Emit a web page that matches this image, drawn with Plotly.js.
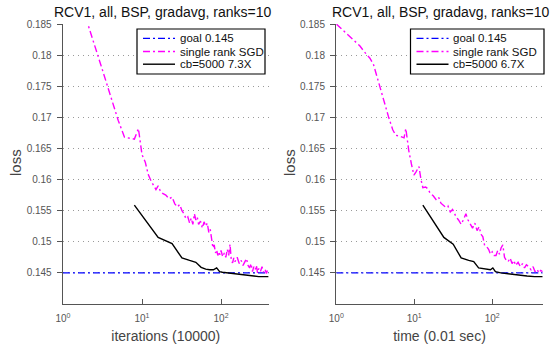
<!DOCTYPE html>
<html>
<head>
<meta charset="utf-8">
<script src="https://cdn.plot.ly/plotly-3.0.1.min.js"></script>
<style>html,body{margin:0;padding:0;background:#fff;}#chart{width:556px;height:349px;}</style>
</head>
<body>
<div id="chart"></div>
<script>
// ---- data ----
const titleText = "RCV1, all, BSP, gradavg, ranks=10";
const goalValue = 0.145;

// left panel: iterations (10000)
const leftSgdX = [1,2,3,4,5,6,7,8,9,10,11,12,13,14,15,16,17,18,20,22,24,26,28,30,32,34,36,38,40,42,44,46,48,50,52,55,58,61,64,67,70,73,76,79,82,85,88,91,94,97,100,105,110,115,120,125,130,135,140,145,150,160,170,180,190,200,210,220,230,240,250,260,270,280,290,300,315,330,345,360,375,390,400];
const leftSgdY = [0.21,0.1855,0.1785,0.1735,0.1695,0.1668,0.1667,0.1665,0.1682,0.1640,0.1628,0.1608,0.1598,0.1590,0.1584,0.1590,0.1582,0.1578,0.1575,0.1569,0.1572,0.1561,0.1556,0.1560,0.1550,0.1545,0.1537,0.1540,0.1530,0.1538,0.1528,0.1545,0.1535,0.1540,0.1528,0.1533,0.1522,0.1532,0.1525,0.1530,0.1515,0.1520,0.1505,0.1490,0.1495,0.1482,0.1487,0.1478,0.1484,0.1479,0.1486,0.1476,0.1482,0.1475,0.1488,0.1478,0.1496,0.1470,0.1466,0.1474,0.1468,0.1475,0.1465,0.1470,0.1462,0.1468,0.1473,0.1462,0.1458,0.1465,0.1452,0.1460,0.1455,0.1462,0.1450,0.1457,0.1452,0.1460,0.1451,0.1456,0.1449,0.1455,0.1452];
const leftCbX = [8,16,24,32,40,48,56,64,72,80,88,96,104,120,140,170,200,250,300,400];
const leftCbY = [0.1559,0.1507,0.1497,0.1474,0.1470,0.1467,0.1459,0.1456,0.1455,0.1455,0.1458,0.1452,0.1451,0.1450,0.1449,0.1447,0.1446,0.1445,0.1444,0.1444];
const leftGoalX = [1,400];

// right panel: time (0.01 sec)
const rightSgdX = [1,1.5,2,2.3,2.7,3,3.5,4,4.7,5.3,5.8,6.5,7.4,7.8,8.5,9.2,9.9,10.5,11.5,12.2,12.9,14,15,16,17.5,19,20.5,22,25,27,29,31,34.5,37,40,43,46,49,52,56,60,64,68,72,76,80,85,90,95,100,106,112,118,124,130,137,144,152,160,170,180,190,200,215,230,245,260,275,295,315,335,355,375,400,420,445];
const rightSgdY = [0.1850,0.1830,0.1815,0.1805,0.1795,0.1785,0.1755,0.1730,0.1700,0.1680,0.1671,0.1670,0.1667,0.1682,0.1647,0.1625,0.1607,0.1612,0.1621,0.1600,0.1587,0.1588,0.1585,0.1578,0.1574,0.1568,0.1572,0.1562,0.1556,0.1558,0.1548,0.1552,0.1540,0.1535,0.1528,0.1536,0.1545,0.1535,0.1528,0.1522,0.1530,0.1518,0.1524,0.1512,0.1508,0.1494,0.1492,0.1488,0.1480,0.1484,0.1478,0.1478,0.1486,0.1480,0.1490,0.1495,0.1475,0.1470,0.1468,0.1474,0.1465,0.1470,0.1462,0.1467,0.1460,0.1465,0.1458,0.1463,0.1460,0.1455,0.1460,0.1452,0.1456,0.1450,0.1454,0.1452];
const rightCbX = [12.9,24,31.6,40,50,58,67,80,95,102,110,129,150,180,220,280,350,445];
const rightCbY = [0.1559,0.1507,0.1496,0.1474,0.1470,0.1468,0.1458,0.1456,0.1455,0.1458,0.1452,0.1450,0.1449,0.1447,0.1446,0.1445,0.1444,0.1444];
const rightGoalX = [1,445];

const legendNames = ["goal 0.145", "single rank SGD"];
const leftCbName = "cb=5000 7.3X";
const rightCbName = "cb=5000 6.7X";
const xTickVals = [1,10,100];
const xTickText = ["10<sup>0</sup>","10<sup>1</sup>","10<sup>2</sup>"];
const yTickVals = [0.145,0.15,0.155,0.16,0.165,0.17,0.175,0.18,0.185];
const yTickText = ["0.145","0.15","0.155","0.16","0.165","0.17","0.175","0.18","0.185"];
const xTitles = ["iterations (10000)", "time (0.01 sec)"];
const yTitle = "loss";

// ---- styles ----
const W = 556, H = 349;
const FONT = "Liberation Sans, Arial, sans-serif";
const dashDot = "7px,3px,2px,3px";
const lineStyles = [
  {color:"#0000ff", width:1.2, dash:dashDot},
  {color:"#ff00ff", width:1.4, dash:dashDot},
  {color:"#000000", width:1.4, dash:"solid"}
];

function panelTraces(xa, ya, goalX, sgdX, sgdY, cbX, cbY, cbName){
  return [
    {x:goalX, y:goalX.map(()=>goalValue), xaxis:xa, yaxis:ya, mode:"lines", line:lineStyles[0], name:legendNames[0]},
    {x:sgdX, y:sgdY, xaxis:xa, yaxis:ya, mode:"lines", line:lineStyles[1], name:legendNames[1]},
    {x:cbX, y:cbY, xaxis:xa, yaxis:ya, mode:"lines", line:lineStyles[2], name:cbName}
  ];
}

const data = [].concat(
  panelTraces("x","y",leftGoalX,leftSgdX,leftSgdY,leftCbX,leftCbY,leftCbName),
  panelTraces("x2","y2",rightGoalX,rightSgdX,rightSgdY,rightCbX,rightCbY,rightCbName)
);

const tickFont = {family:FONT, size:10, color:"#555"};
const titleFont = {family:FONT, size:14, color:"#444"};
function xAxis(domain, maxX, title, anchor){
  return {type:"log", anchor:anchor, domain:domain, range:[0, Math.log10(maxX)], tickvals:xTickVals, ticktext:xTickText,
    showgrid:false, zeroline:false, showline:true, linecolor:"#555", linewidth:1.3, ticks:"inside", ticklen:5, tickcolor:"#555",
    tickfont:tickFont, ticklabelstandoff:5, title:{text:title, font:titleFont, standoff:8}};
}
function yAxis(domain, anchor){
  return {domain:domain, anchor:anchor, range:[0.14,0.185], tickvals:yTickVals, ticktext:yTickText,
    showgrid:true, gridcolor:"#9a9a9a", griddash:"1px,4px", gridwidth:1, zeroline:false, showline:true, linecolor:"#555", linewidth:1.3,
    ticks:"outside", ticklen:5, tickcolor:"#555", tickfont:tickFont, ticklabelstandoff:3};
}
const yDom = [1-304/H, 1-24/H];

// legend (drawn as a boxed key in paper coordinates)
const px = v => v/W, py = v => 1 - v/H;
const shapes = [], annotations = [];
function addLegend(x0, x1, names){
  shapes.push({type:"rect", xref:"paper", yref:"paper", x0:px(x0), x1:px(x1), y0:py(29), y1:py(74), line:{color:"#000", width:1.2}, fillcolor:"#fff", layer:"above"});
  const rows = [38.3, 51.5, 64.2];
  names.forEach((n,i)=>{
    shapes.push({type:"line", xref:"paper", yref:"paper", x0:px(x0+6), x1:px(x0+38), y0:py(rows[i]), y1:py(rows[i]), line:lineStyles[i], layer:"above"});
    annotations.push({text:n, xref:"paper", yref:"paper", x:px(x0+41), y:py(rows[i]), xanchor:"left", yanchor:"middle", showarrow:false, font:{family:FONT, size:11.5, color:"#111"}});
  });
}
addLegend(137, 265, [legendNames[0], legendNames[1], leftCbName]);
addLegend(410.5, 544, [legendNames[0], legendNames[1], rightCbName]);

annotations.push(
  {text:titleText, xref:"paper", yref:"paper", x:px(162), y:py(11.5), showarrow:false, xanchor:"center", yanchor:"middle", font:{family:FONT, size:14, color:"#111"}},
  {text:titleText, xref:"paper", yref:"paper", x:px(440), y:py(11.5), showarrow:false, xanchor:"center", yanchor:"middle", font:{family:FONT, size:14, color:"#111"}},
  {text:yTitle, xref:"paper", yref:"paper", x:px(16), y:py(163), textangle:-90, showarrow:false, xanchor:"center", yanchor:"middle", font:{family:FONT, size:15, color:"#444"}},
  {text:yTitle, xref:"paper", yref:"paper", x:px(290), y:py(163), textangle:-90, showarrow:false, xanchor:"center", yanchor:"middle", font:{family:FONT, size:15, color:"#444"}}
);

const layout = {
  width:W, height:H, margin:{l:0,r:0,t:0,b:0}, paper_bgcolor:"#fff", plot_bgcolor:"#fff",
  showlegend:false,
  xaxis: xAxis([63/W, 268.6/W], 400, xTitles[0], "y"),
  yaxis: yAxis(yDom, "x"),
  xaxis2: xAxis([336.3/W, 542.7/W], 445, xTitles[1], "y2"),
  yaxis2: yAxis(yDom, "x2"),
  shapes: shapes,
  annotations: annotations
};

Plotly.newPlot("chart", data, layout, {displayModeBar:false, staticPlot:true});
</script>
</body>
</html>
